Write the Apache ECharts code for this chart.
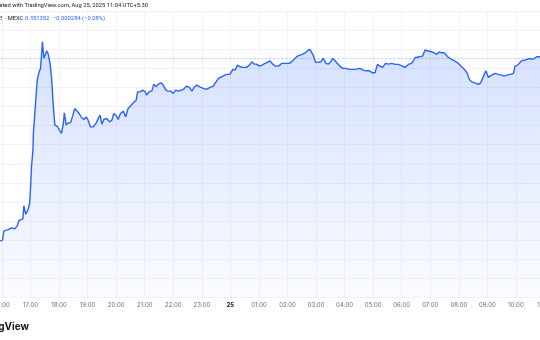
<!DOCTYPE html>
<html>
<head>
<meta charset="utf-8">
<script src="https://cdn.jsdelivr.net/npm/echarts@6/dist/echarts.min.js"></script>
<style>
html,body{margin:0;padding:0;background:#fff;}
#c{width:540px;height:340px;}
</style>
</head>
<body>
<div id="c"></div>
<script>
// minutes since 16:00 (Aug 24, UTC+5:30), 5-minute chart
const times = [
  -4,1,4,8,13,20,27,32,36,40,
  44,46,50,55,58,60,62,65,66,69,
  74,78,81,85,88,94,97,101,104,108,
  111,116,120,125,129,131,135,139,144,149,
  153,157,162,167,172,177,181,186,192,198,
  202,206,210,214,220,226,231,235,241,244,
  249,255,260,265,270,276,282,285,290,296,
  301,304,309,315,319,324,328,334,339,344,
  349,355,360,365,371,381,388,394,399,404,
  409,416,423,430,437,444,450,455,458,464,
  472,479,485,490,495,500,507,514,520,525,
  530,535,541,546,553,558,563,569,574,581,
  588,591,597,604,611,616,621,626,632,637,
  642,647,651,654,659,665,670,675,681,686,
  691,695,700,705,710,716,723,730,742,745,
  752,759,765,772,779,784,789,794,800,806,
  812,819,826,833,840,847,854,861,868,877,
  884,889,896,903,908,914,919,924,929,933,
  938,945,952,959,966,973,978,982,987,994,
  1001,1006,1010,1014,1017,1022,1029,1036,1043,1050,
  1055,1061,1068,1075,1078,1083,1087,1092,1099,1104,
  1109,1114,1119,1124,1131,1140
];
const prices = [
  0.32741,0.32748,0.32872,0.32859,0.32888,0.32912,0.32899,0.32938,0.33010,0.32988,
  0.33030,0.33200,0.33089,0.33154,0.33233,0.33430,0.33709,0.33928,0.34151,0.34413,
  0.34845,0.34954,0.34999,0.35348,0.35130,0.35230,0.35186,0.35064,0.34889,0.34495,
  0.34256,0.34242,0.34199,0.34147,0.34278,0.34417,0.34256,0.34286,0.34286,0.34387,
  0.34474,0.34474,0.34409,0.34356,0.34330,0.34364,0.34321,0.34233,0.34233,0.34286,
  0.34269,0.34387,0.34269,0.34330,0.34343,0.34299,0.34321,0.34409,0.34373,0.34330,
  0.34409,0.34439,0.34364,0.34474,0.34505,0.34548,0.34583,0.34692,0.34692,0.34714,
  0.34692,0.34649,0.34692,0.34705,0.34793,0.34758,0.34789,0.34810,0.34780,0.34714,
  0.34701,0.34701,0.34671,0.34714,0.34701,0.34724,0.34767,0.34750,0.34701,0.34750,
  0.34780,0.34758,0.34737,0.34724,0.34750,0.34767,0.34823,0.34868,0.34845,0.34898,
  0.34920,0.34920,0.34986,0.34977,0.35042,0.35020,0.35012,0.35012,0.35042,0.35085,
  0.35055,0.35055,0.35029,0.35042,0.35064,0.35078,0.35098,0.35055,0.35029,0.35029,
  0.35064,0.35078,0.35064,0.35064,0.35098,0.35130,0.35160,0.35173,0.35186,0.35203,
  0.35230,0.35248,0.35239,0.35173,0.35078,0.35078,0.35085,0.35130,0.35064,0.35055,
  0.35085,0.35130,0.35098,0.35064,0.35029,0.34999,0.34999,0.34986,0.34986,0.34977,
  0.34999,0.34977,0.34967,0.34967,0.34941,0.34941,0.35051,0.35029,0.35012,0.35064,
  0.35055,0.35064,0.35051,0.35051,0.35033,0.35012,0.35051,0.35064,0.35138,0.35151,
  0.35160,0.35239,0.35226,0.35216,0.35203,0.35182,0.35216,0.35203,0.35203,0.35216,
  0.35143,0.35117,0.35095,0.35064,0.35020,0.34977,0.34933,0.34855,0.34823,0.34810,
  0.34789,0.34810,0.34868,0.34855,0.34967,0.34881,0.34911,0.34933,0.34920,0.34911,
  0.34898,0.34911,0.34920,0.34933,0.35029,0.35038,0.35029,0.35098,0.35108,0.35117,
  0.35130,0.35117,0.35130,0.35151,0.35151,0.35135
];
const lastPrice = 0.351352;
const headerLine1 = 'Created with TradingView.com, Aug 25, 2025 11:04 UTC+5:30';
const headerSymbol = '5 · MEXC';
const headerPrice = '0.351352';
const headerChange = '−0.000284 (−0.08%)';
const brand = 'TradingView';
const startHour = 16;
const dayLabel = '25';

const chart = echarts.init(document.getElementById('c'), null, {renderer: 'canvas'});
const data = times.map((t, i) => [t, prices[i]]);
const gridColor = '#f0f3fa';
const font = 'Inter, "Noto Sans", sans-serif';
const hfont = 'Roboto, sans-serif';

chart.setOption({
  animation: false,
  backgroundColor: '#ffffff',
  grid: {left: -26.55, right: -4.45, top: 11, bottom: 42.5, containLabel: false, outerBoundsMode: 'none'},
  xAxis: {
    type: 'value', min: -60, max: 1140, interval: 60,
    axisLine: {show: false}, axisTick: {show: false},
    splitLine: {show: true, lineStyle: {color: gridColor, width: 1}},
    axisLabel: {
      fontSize: 6, color: '#6a6d78', margin: 5, fontFamily: font,
      formatter: function (v) {
        const h = (((startHour + v / 60) % 24) + 24) % 24;
        if (h === 0) return '{b|' + dayLabel + '}';
        return (h < 10 ? '0' : '') + h + ':00';
      },
      rich: {b: {fontSize: 6, fontWeight: 'bold', color: '#131722', fontFamily: font}}
    }
  },
  yAxis: {
    type: 'value', min: 0.32, max: 0.3575, interval: 0.0025,
    axisLine: {show: false}, axisTick: {show: false}, axisLabel: {show: false},
    splitLine: {show: true, lineStyle: {color: gridColor, width: 1}}
  },
  series: [{
    type: 'line', data: data, showSymbol: false, smooth: false,
    lineStyle: {color: '#2962ff', width: 1.4},
    areaStyle: {
      color: new echarts.graphic.LinearGradient(0, 0, 0, 1, [
        {offset: 0, color: 'rgba(41,98,255,0.28)'},
        {offset: 1, color: 'rgba(41,98,255,0.03)'}
      ])
    },
    markLine: {
      silent: true, symbol: 'none', label: {show: false}, precision: 6,
      lineStyle: {color: 'rgba(41,98,255,0.35)', type: [2, 2], width: 1},
      data: [{yAxis: lastPrice}]
    }
  }],
  graphic: [
    {type: 'text', x: 148, y: 6, style: {text: headerLine1, fill: '#131722', fontSize: 5.8, fontFamily: hfont, align: 'right', verticalAlign: 'middle'}},
    {type: 'text', x: 0, y: 19, style: {text: headerSymbol, fill: '#131722', fontSize: 5.8, fontFamily: hfont, align: 'left', verticalAlign: 'middle'}},
    {type: 'text', x: 25, y: 19, style: {text: headerPrice, fill: '#2962ff', fontSize: 5.8, fontFamily: hfont, align: 'left', verticalAlign: 'middle'}},
    {type: 'text', x: 53, y: 19, style: {text: headerChange, fill: '#2962ff', fontSize: 5.8, fontFamily: hfont, align: 'left', verticalAlign: 'middle'}},
    {type: 'text', x: 29, y: 327, style: {text: brand, fill: '#131722', fontSize: 10, fontWeight: 'bold', fontFamily: font, align: 'right', verticalAlign: 'middle'}}
  ]
});
</script>
</body>
</html>
